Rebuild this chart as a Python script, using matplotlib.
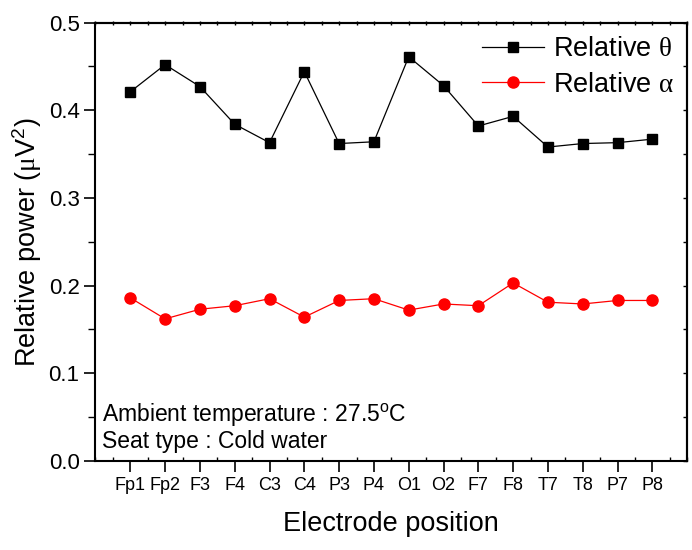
'''
Relative theta / alpha power per electrode position
'''
import matplotlib
matplotlib.use('Agg')
import matplotlib.pyplot as plt
from matplotlib.ticker import MultipleLocator, NullFormatter

electrodes = ['Fp1', 'Fp2', 'F3', 'F4', 'C3', 'C4', 'P3', 'P4',
              'O1', 'O2', 'F7', 'F8', 'T7', 'T8', 'P7', 'P8']
rel_theta = [0.421, 0.452, 0.427, 0.384, 0.363, 0.444, 0.362, 0.364,
             0.461, 0.428, 0.382, 0.393, 0.358, 0.362, 0.363, 0.367]
rel_alpha = [0.186, 0.162, 0.173, 0.177, 0.185, 0.164, 0.183, 0.185,
             0.172, 0.179, 0.177, 0.203, 0.181, 0.179, 0.183, 0.183]

plt.rcParams['font.family'] = ['Liberation Sans', 'DejaVu Sans']
plt.rcParams['mathtext.fontset'] = 'custom'
plt.rcParams['mathtext.rm'] = 'Liberation Serif'
plt.rcParams['mathtext.sf'] = 'Liberation Sans'
plt.rcParams['mathtext.it'] = 'Liberation Sans:italic'

fig = plt.figure(figsize=(6.92, 5.5), dpi=100)
ax = fig.add_axes([0.138, 0.162, 0.855, 0.797])

x = list(range(1, len(electrodes) + 1))
ax.plot(x, rel_theta, 's-', color='black', lw=0.9, ms=7,
        label='Relative $\\mathrm{\\theta}$')
ax.plot(x, rel_alpha, 'o-', color='red', lw=0.9, ms=8,
        label='Relative $\\mathrm{\\alpha}$')

ax.set_xlim(0, 17)
ax.set_ylim(0, 0.5)
ax.set_xticks(x)
ax.set_xticklabels(electrodes, fontsize=13)
ax.xaxis.set_minor_locator(MultipleLocator(0.5))
ax.yaxis.set_major_locator(MultipleLocator(0.1))
ax.yaxis.set_minor_locator(MultipleLocator(0.05))
ax.yaxis.set_major_formatter(plt.FormatStrFormatter('%.1f'))
ax.tick_params(axis='y', labelsize=16)
ax.tick_params(which='major', direction='out', length=8, width=1.2)
ax.tick_params(axis='y', which='minor', direction='out', length=5, width=1)
ax.tick_params(axis='x', which='minor', direction='in', length=3, width=1)
ax.tick_params(which='both', top=False, right=False)
for spine in ax.spines.values():
    spine.set_linewidth(1.5)

# top / right axes carry only small inward ticks
top = ax.secondary_xaxis('top')
top.xaxis.set_major_locator(MultipleLocator(0.5))
top.xaxis.set_major_formatter(NullFormatter())
top.tick_params(which='both', direction='inout', length=3, width=1)
right = ax.secondary_yaxis('right')
right.yaxis.set_major_locator(MultipleLocator(0.05))
right.yaxis.set_major_formatter(NullFormatter())
right.tick_params(which='both', direction='in', length=3, width=1)
for sec in (top, right):
    for spine in sec.spines.values():
        spine.set_linewidth(1.5)

ax.set_xlabel('Electrode position', fontsize=19.5, labelpad=12)
ax.set_ylabel('Relative power ($\\mathrm{\\mu}$V$^{\\mathsf{2}}$)', fontsize=19.5, labelpad=3)

ax.text(0.0105, 0.0897, 'Ambient temperature : 27.5$^{\\mathsf{o}}$C',
        transform=ax.transAxes, fontsize=16.5, va='baseline')
ax.text(0.0105, 0.0297, 'Seat type : Cold water',
        transform=ax.transAxes, fontsize=16.5, va='baseline')

ax.legend(loc='upper right', frameon=False, fontsize=19.5, handlelength=2.3,
          handletextpad=0.3, borderaxespad=0.0, borderpad=0.5,
          labelspacing=0.35)

plt.savefig('out.png', dpi=100)
